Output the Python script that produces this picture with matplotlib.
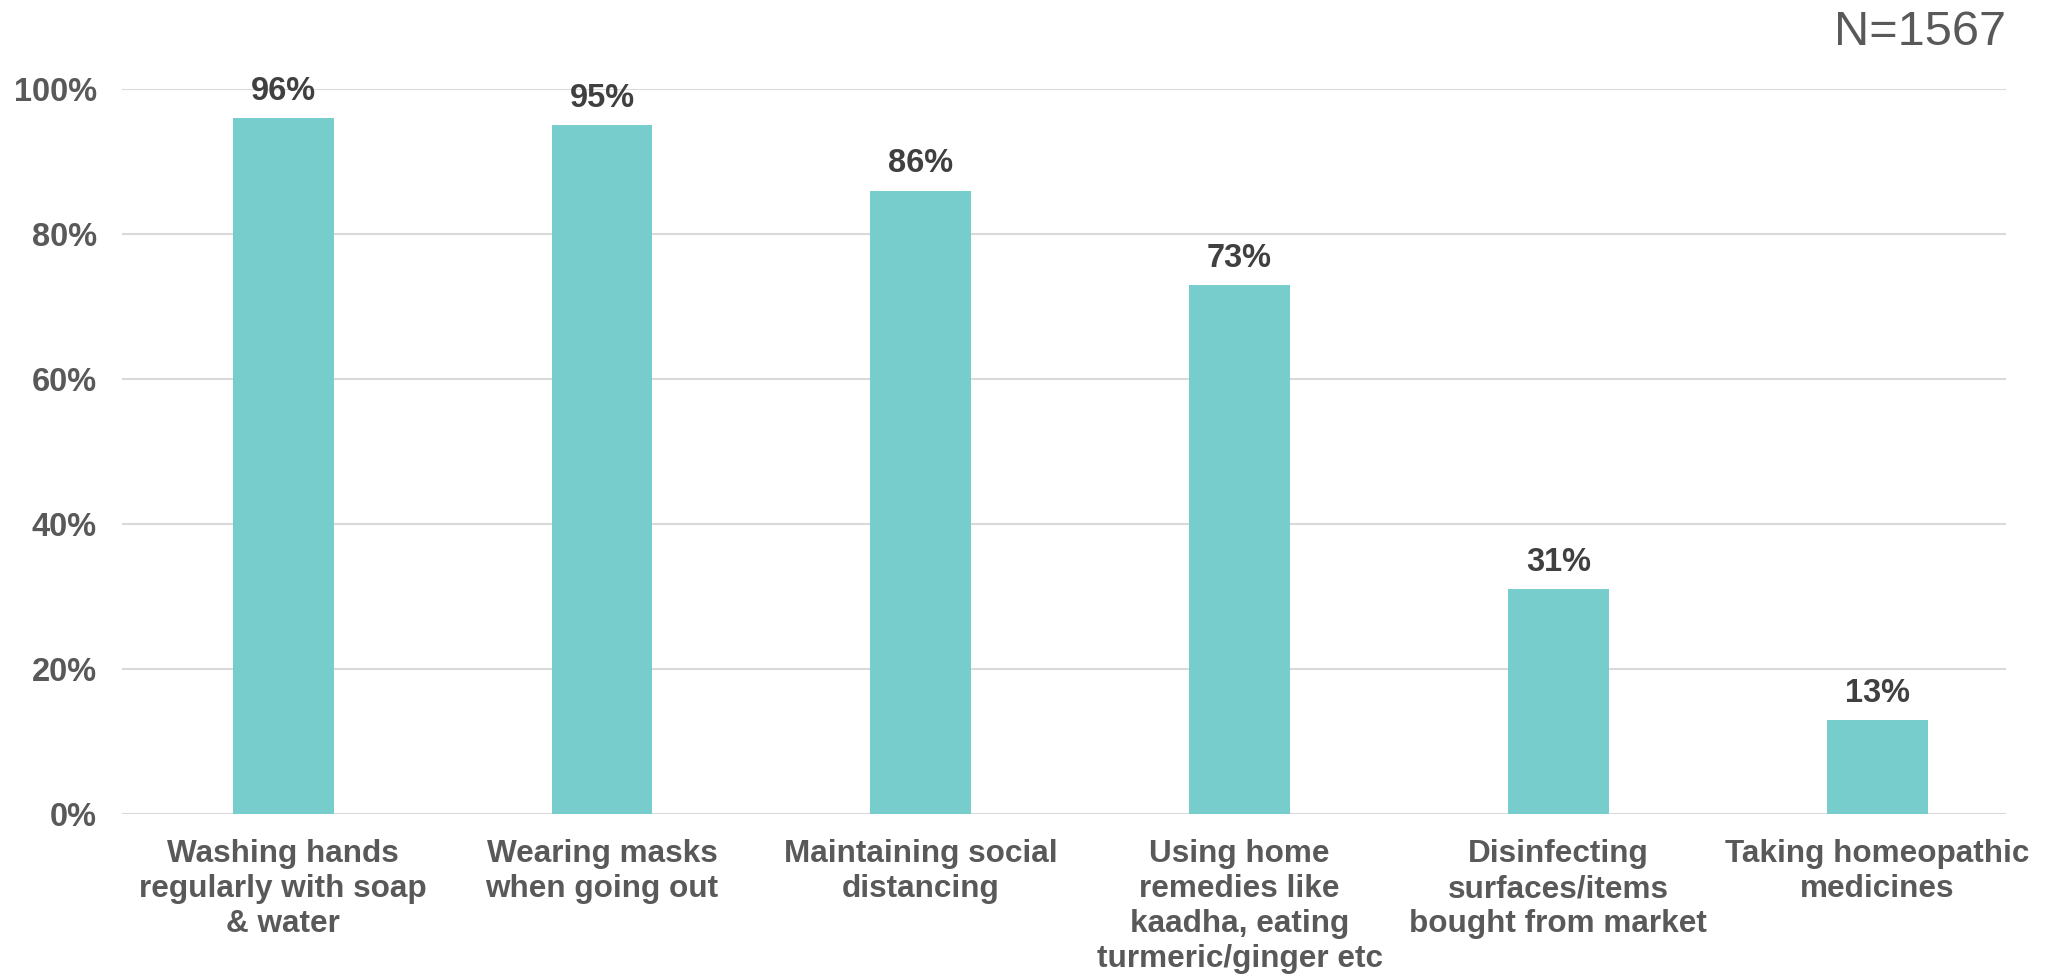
import numpy as np
import matplotlib.pyplot as plt

# data
categories = [
    "Washing hands\nregularly with soap\n& water",
    "Wearing masks\nwhen going out",
    "Maintaining social\ndistancing",
    "Using home\nremedies like\nkaadha, eating\nturmeric/ginger etc",
    "Disinfecting\nsurfaces/items\nbought from market",
    "Taking homeopathic\nmedicines",
]
values = [96, 95, 86, 73, 31, 13]
yticks = [0, 20, 40, 60, 80, 100]

plt.rcParams['font.family'] = ['Liberation Sans', 'DejaVu Sans']

fig = plt.figure(figsize=(20.49, 9.77), dpi=100)
ax = fig.add_axes([0.0595, 0.1668, 0.9195, 0.7421])

x = np.arange(len(categories))
bars = ax.bar(x, values, width=0.316, color='#77CDCC', zorder=3)

for xi, v in zip(x, values):
    ax.annotate(f"{v}%", (xi, v), xytext=(0, 8), textcoords='offset points',
                ha='center', va='bottom', fontsize=23.5, fontweight='bold', color='#404040')

ax.set_xlim(-0.506, 5.404)
ax.set_ylim(0, 100)
ax.set_yticks(yticks)
ax.set_yticklabels([f"{t}%" for t in yticks], fontsize=23.5, fontweight='bold', color='#595959')
ax.set_xticks(x)
ax.set_xticklabels(categories, fontsize=22.7, fontweight='bold', color='#595959', linespacing=1.22)
ax.tick_params(axis='both', length=0)
ax.tick_params(axis='x', pad=18)
ax.tick_params(axis='y', pad=18)

ax.grid(axis='y', color='#D9D9D9', linewidth=1.5, zorder=0)
for s in ax.spines.values():
    s.set_visible(False)

fig.text(0.979, 0.99, "N=1567", ha='right', va='top', fontsize=35, color='#595959')

fig.savefig("out.png", dpi=100)
